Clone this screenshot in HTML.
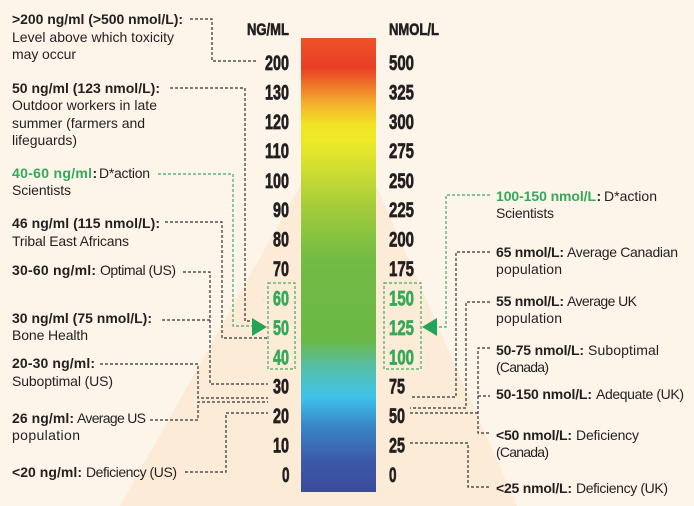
<!DOCTYPE html>
<html><head><meta charset="utf-8"><style>
html,body{margin:0;padding:0;background:#fdf5ea;}
svg{display:block;}
.t{font-family:"Liberation Sans",sans-serif;font-size:14px;fill:#231f20;}
.b{font-weight:700;}
.g{fill:#35a95a;}
.n{font-family:"Liberation Sans Narrow","Liberation Sans",sans-serif;font-weight:700;font-size:21.5px;fill:#231f20;stroke:#231f20;stroke-width:0.7;}
.h{font-family:"Liberation Sans Narrow","Liberation Sans",sans-serif;font-weight:700;font-size:17px;fill:#231f20;stroke:#231f20;stroke-width:0.6;}
.ng{fill:#35a95a;stroke:#35a95a;}
.d{fill:none;stroke:#333;stroke-width:1.2;stroke-dasharray:3 2;}
.dg{fill:none;stroke:#3fab62;stroke-width:1.2;stroke-dasharray:3 2;}
</style></head><body>
<svg width="694" height="506" viewBox="0 0 694 506" xmlns="http://www.w3.org/2000/svg">
<defs>
<linearGradient id="bar" x1="0" y1="0" x2="0" y2="1">
<stop offset="0" stop-color="#ee5228"/>
<stop offset="0.066" stop-color="#e93f25"/>
<stop offset="0.115" stop-color="#f0862b"/>
<stop offset="0.148" stop-color="#f4b42b"/>
<stop offset="0.192" stop-color="#f2e426"/>
<stop offset="0.225" stop-color="#eeea27"/>
<stop offset="0.291" stop-color="#cfdd31"/>
<stop offset="0.379" stop-color="#a0cb3c"/>
<stop offset="0.489" stop-color="#72bb45"/>
<stop offset="0.665" stop-color="#6bb846"/>
<stop offset="0.72" stop-color="#58bea2"/>
<stop offset="0.791" stop-color="#3fc3ea"/>
<stop offset="0.852" stop-color="#3888c8"/>
<stop offset="0.93" stop-color="#3c5aa8"/>
<stop offset="1" stop-color="#3b4a9c"/>
</linearGradient>
</defs>
<rect x="0" y="0" width="694" height="506" fill="#fdf5ea"/>
<polygon points="343,110 120,506 517,506" fill="#fcebd6"/>
<rect x="301" y="38" width="75" height="454" fill="url(#bar)"/>

<!-- headers -->
<text class="h" x="247" y="35" textLength="42" lengthAdjust="spacingAndGlyphs">NG/ML</text>
<text class="h" x="389" y="35" textLength="50" lengthAdjust="spacingAndGlyphs">NMOL/L</text>

<!-- left ticks -->
<text class="n" x="265" y="70" textLength="24" lengthAdjust="spacingAndGlyphs">200</text>
<text class="n" x="265" y="99.5" textLength="24" lengthAdjust="spacingAndGlyphs">130</text>
<text class="n" x="265" y="129" textLength="24" lengthAdjust="spacingAndGlyphs">120</text>
<text class="n" x="265" y="158" textLength="24" lengthAdjust="spacingAndGlyphs">110</text>
<text class="n" x="265" y="188" textLength="24" lengthAdjust="spacingAndGlyphs">100</text>
<text class="n" x="273" y="217" textLength="16" lengthAdjust="spacingAndGlyphs">90</text>
<text class="n" x="273" y="246.5" textLength="16" lengthAdjust="spacingAndGlyphs">80</text>
<text class="n" x="273" y="276" textLength="16" lengthAdjust="spacingAndGlyphs">70</text>
<text class="n ng" x="273" y="305.5" textLength="16" lengthAdjust="spacingAndGlyphs">60</text>
<text class="n ng" x="273" y="335" textLength="16" lengthAdjust="spacingAndGlyphs">50</text>
<text class="n ng" x="273" y="364.5" textLength="16" lengthAdjust="spacingAndGlyphs">40</text>
<text class="n" x="273" y="393.5" textLength="16" lengthAdjust="spacingAndGlyphs">30</text>
<text class="n" x="273" y="423" textLength="16" lengthAdjust="spacingAndGlyphs">20</text>
<text class="n" x="273" y="452.5" textLength="16" lengthAdjust="spacingAndGlyphs">10</text>
<text class="n" x="282" y="482" textLength="7.5" lengthAdjust="spacingAndGlyphs">0</text>

<!-- right ticks -->
<text class="n" x="389" y="70" textLength="25" lengthAdjust="spacingAndGlyphs">500</text>
<text class="n" x="389" y="99.5" textLength="25" lengthAdjust="spacingAndGlyphs">325</text>
<text class="n" x="389" y="129" textLength="25" lengthAdjust="spacingAndGlyphs">300</text>
<text class="n" x="389" y="158" textLength="25" lengthAdjust="spacingAndGlyphs">275</text>
<text class="n" x="389" y="188" textLength="25" lengthAdjust="spacingAndGlyphs">250</text>
<text class="n" x="389" y="217" textLength="25" lengthAdjust="spacingAndGlyphs">225</text>
<text class="n" x="389" y="246.5" textLength="25" lengthAdjust="spacingAndGlyphs">200</text>
<text class="n" x="389" y="276" textLength="25" lengthAdjust="spacingAndGlyphs">175</text>
<text class="n ng" x="389" y="305.5" textLength="25" lengthAdjust="spacingAndGlyphs">150</text>
<text class="n ng" x="389" y="335" textLength="25" lengthAdjust="spacingAndGlyphs">125</text>
<text class="n ng" x="389" y="364.5" textLength="25" lengthAdjust="spacingAndGlyphs">100</text>
<text class="n" x="389" y="393.5" textLength="16" lengthAdjust="spacingAndGlyphs">75</text>
<text class="n" x="389" y="423" textLength="16" lengthAdjust="spacingAndGlyphs">50</text>
<text class="n" x="389" y="452.5" textLength="16" lengthAdjust="spacingAndGlyphs">25</text>
<text class="n" x="389" y="482" textLength="7.5" lengthAdjust="spacingAndGlyphs">0</text>

<!-- green boxes -->
<rect class="dg" x="268" y="283" width="27" height="86"/>
<rect class="dg" x="384" y="283" width="37" height="86"/>

<!-- left connector lines -->
<polyline class="d" points="190,19 212,19 212,61 258,61"/>
<polyline class="d" points="170,88 245,88 245,321 253,321"/>
<polyline class="dg" points="158,174 233,174 233,326 253,326"/>
<polyline class="d" points="165,222 222,222 222,338 268,338"/>
<polyline class="d" points="183,272 210,272 210,384 268,384"/>
<polyline class="d" points="162,320 210,320"/>
<polyline class="d" points="100,364 198,364 198,398 268,398"/>
<polyline class="d" points="150,420 198,420 198,402 268,402"/>
<polyline class="d" points="185,472 226,472 226,413 268,413"/>

<!-- right connector lines -->
<polyline class="dg" points="490,195 446,195 446,327 437,327"/>
<polyline class="d" points="490,252 456,252 456,397 410,397"/>
<polyline class="d" points="490,302 466,302 466,408 410,408"/>
<polyline class="d" points="490,348 478,348 478,433 490,433"/>
<polyline class="d" points="410,413 478,413"/>
<polyline class="d" points="478,396 490,396"/>
<polyline class="d" points="410,443 468,443 468,487 490,487"/>

<!-- arrows -->
<polygon points="252,318 267,327 252,336" fill="#23a459"/>
<polygon points="437,318 422,327 437,336" fill="#23a459"/>

<!-- left annotations -->
<text class="t b" x="12" y="24" textLength="171">&gt;200 ng/ml (&gt;500 nmol/L):</text>
<text class="t" x="12" y="42" textLength="162">Level above which toxicity</text>
<text class="t" x="12" y="59" textLength="64">may occur</text>

<text class="t b" x="12" y="93" textLength="148">50 ng/ml (123 nmol/L):</text>
<text class="t" x="12" y="110" textLength="145">Outdoor workers in late</text>
<text class="t" x="12" y="128" textLength="133">summer (farmers and</text>
<text class="t" x="12" y="145" textLength="65">lifeguards)</text>

<text class="t b g" x="12" y="178" textLength="80">40-60 ng/ml</text>
<text class="t b" x="92.5" y="178">:</text>
<text class="t" x="99" y="178" textLength="51">D*action</text>
<text class="t" x="12" y="195" textLength="59">Scientists</text>

<text class="t b" x="12" y="228" textLength="148">46 ng/ml (115 nmol/L):</text>
<text class="t" x="12" y="246" textLength="117">Tribal East Africans</text>

<text class="t b" x="12" y="275" textLength="84">30-60 ng/ml:</text>
<text class="t" x="100" y="275" textLength="76">Optimal (US)</text>

<text class="t b" x="12" y="323" textLength="140">30 ng/ml (75 nmol/L):</text>
<text class="t" x="12" y="340" textLength="76">Bone Health</text>

<text class="t b" x="12" y="368" textLength="83">20-30 ng/ml:</text>
<text class="t" x="12" y="386" textLength="101">Suboptimal (US)</text>

<text class="t b" x="12" y="423" textLength="62">26 ng/ml:</text>
<text class="t" x="77" y="423" textLength="69">Average US</text>
<text class="t" x="12" y="440" textLength="68">population</text>

<text class="t b" x="12" y="477" textLength="70">&lt;20 ng/ml:</text>
<text class="t" x="86" y="477" textLength="91">Deficiency (US)</text>

<!-- right annotations -->
<text class="t b g" x="496" y="201" textLength="100">100-150 nmol/L</text>
<text class="t b" x="596.5" y="201">:</text>
<text class="t" x="604" y="201" textLength="53">D*action</text>
<text class="t" x="496" y="218" textLength="58">Scientists</text>

<text class="t b" x="496" y="257" textLength="68">65 nmol/L:</text>
<text class="t" x="567" y="257" textLength="111">Average Canadian</text>
<text class="t" x="496" y="274" textLength="66">population</text>

<text class="t b" x="496" y="306" textLength="68">55 nmol/L:</text>
<text class="t" x="567" y="306" textLength="70">Average UK</text>
<text class="t" x="496" y="323" textLength="66">population</text>

<text class="t b" x="496" y="355" textLength="88">50-75 nmol/L:</text>
<text class="t" x="588" y="355" textLength="71">Suboptimal</text>
<text class="t" x="496" y="372" textLength="53">(Canada)</text>

<text class="t b" x="496" y="399" textLength="96">50-150 nmol/L:</text>
<text class="t" x="596" y="399" textLength="88">Adequate (UK)</text>

<text class="t b" x="496" y="440" textLength="76">&lt;50 nmol/L:</text>
<text class="t" x="576" y="440" textLength="63">Deficiency</text>
<text class="t" x="496" y="457" textLength="53">(Canada)</text>

<text class="t b" x="496" y="493" textLength="76">&lt;25 nmol/L:</text>
<text class="t" x="576" y="493" textLength="92">Deficiency (UK)</text>
</svg>
</body></html>
